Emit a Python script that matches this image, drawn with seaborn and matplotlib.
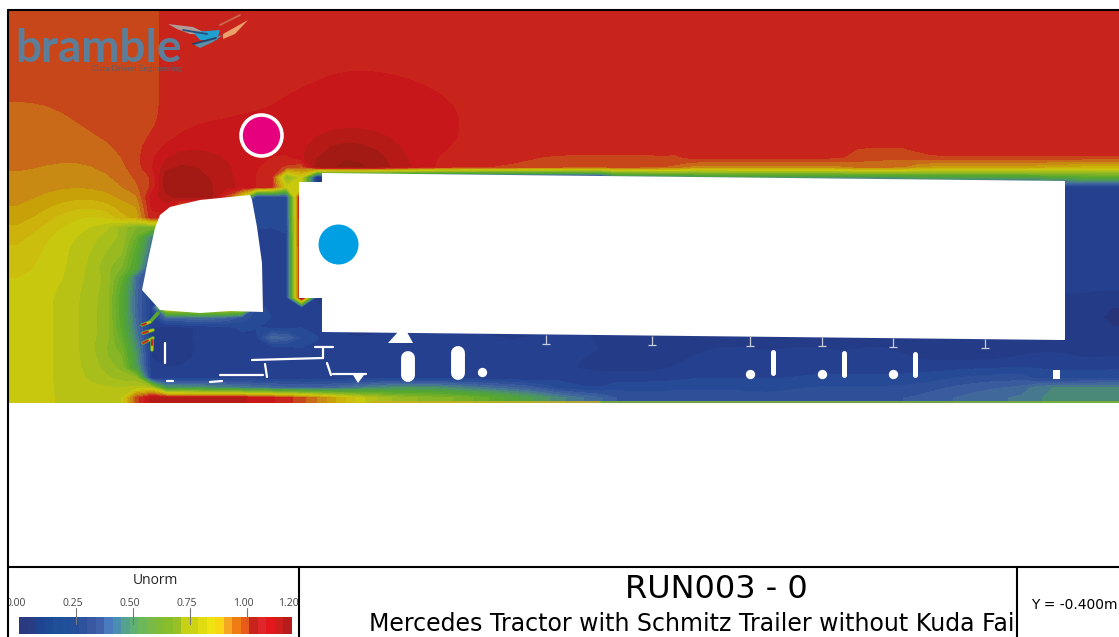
import numpy as np
import matplotlib
matplotlib.use('Agg')
import matplotlib.pyplot as plt
from matplotlib.colors import ListedColormap
import seaborn as sns

# %% Data
# Unorm band per grid cell, one char per band (0-9 then a-v), 32 bands over 0..1.2
# each row is 10 cells per group, last group 4 cells; rows are about 10 px, cells 15 px
BANDS = '0123456789abcdefghijklmnopqrstuv'
field_rows = [
    'qqqqqqqqqq rrrrrrrrrr rrrrrrrrrr rrrrrrrrrr rrrrrrrrrr rrrrrrrrrr rrrrrrrrrr rrrr',
    'qqqqqqqqqq rrrrrrrrrr rrrrrrrrrr rrrrrrrrrr rrrrrrrrrr rrrrrrrrrr rrrrrrrrrr rrrr',
    'qqqqqqqqqq rrrrrrrrrr rrrrrrrrrr rrrrrrrrrr rrrrrrrrrr rrrrrrrrrr rrrrrrrrrr rrrr',
    'qqqqqqqqqq rrrrrrrrrr rrrrrrrrrr rrrrrrrrrr rrrrrrrrrr rrrrrrrrrr rrrrrrrrrr rrrr',
    'qqqqqqqqqq rrrrrrrrrr rrrrrrrrrr rrrrrrrrrr rrrrrrrrrr rrrrrrrrrr rrrrrrrrrr rrrr',
    'qqqqqqqqqq rrrrrrrrrr rrrrrrrrrr rrrrrrrrrr rrrrrrrrrr rrrrrrrrrr rrrrrrrrrr rrrr',
    'qqqqqqqqqq rrrrrrrrrr rsssssrrrr rrrrrrrrrr rrrrrrrrrr rrrrrrrrrr rrrrrrrrrr rrrr',
    'qqqqqqqqqq rrrrrrrrrr ssssssssrr rrrrrrrrrr rrrrrrrrrr rrrrrrrrrr rrrrrrrrrr rrrr',
    'qqqqqqqqqq rrrrrrrrss sssssssssr rrrrrrrrrr rrrrrrrrrr rrrrrrrrrr rrrrrrrrrr rrrr',
    'pppqqqqqqq rrrrrrrrss ssssssssss rrrrrrrrrr rrrrrrrrrr rrrrrrrrrr rrrrrrrrrr rrrr',
    'ppppqqqqqq rrrrrsssss ssssssssss rrrrrrrrrr rrrrrrrrrr rrrrrrrrrr rrrrrrrrrr rrrr',
    'pppppqqqqq rrssssssss ssssssssss rrrrrrrrrr rrrrrrrrrr rrrrrrrrrr rrrrrrrrrr rrrr',
    'ppppppqqqq rsssssssss sttttsssss rrrrrrrrrr rrrrrrrrrr rrrrrrrrrr rrrrrrrrrr rrrr',
    'pppppppqqr ssssssssss tuuuttssss rrrrrrrrrr rrrrrrrrrr rrrrrrrrrr rrrrrrrrrr rrrr',
    'ppppppppqr ttttssssrs uvvvutssrr rrrrrrrrrr rrrrrrrrrr rrrrrrqqqq qqqqqqqqqq qqqq',
    'ppooooppqs uuutttsrpo tvvvvutsrr qqqqqppppp ppppoooooo oooooooooo nnnnnnnnnn mmmm',
    'oooooooppr vvutssrpgk 3333333333 3333333333 778899aaaa aaaaaaaaaa bbbbbbbbbb dddd',
    'oooooooopr vvvuttsqjk 2222222222 2222222222 3333333333 3333333333 3333333333 4333',
    'oonnnnnops uuutqk336v 2222222222 2222222222 2222222222 2222222222 2222222222 3333',
    'onnmllmnps spnmk53 35v 2222222222 2222222222 2222222222 2222222222 2222222222 3333',
    'nnmlkkklnq q55555335v 2222222222 2222222222 2222222222 2222222222 2222222222 3333',
    'nmlkkjjhfg e55555335v 2222222222 2222222222 2222222222 2222222222 2222222222 3333',
    'mlkkjjihea 333333333v 2222222222 2222222222 2222222222 2222222222 2222222222 3333',
    'mlkkjjigd8 333333333v 2222222222 2222222222 2222222222 2222222222 2222222222 3333',
    'llkkjjhfc6 333333333v 2222222222 2222222222 2222222222 2222222222 2222222222 3333',
    'llkkjihfb5 333333333v 2222222222 2222222222 2222222222 2222222222 2222222222 3333',
    'lkkkjjgd83 333333333v 2222222222 2222222222 2222222222 2222222222 2222222222 3333',
    'kkkjjigd73 333333333v 2222222222 2222222222 2222222222 2222222222 2222222222 3333',
    'kkkjjigc63 333333333v 3222222222 2222222222 2222222222 2222222222 2222222222 3222',
    'kkkjjigc63 mmmmmm6333 3222222222 2222222222 2222222222 2222222222 2222222222 3211',
    'kkkjjigd73 6788764333 3222222222 2222222222 2222222222 2222222222 2222222222 3211',
    'kkkjjigd73 1233333333 3222222222 2222222222 2222222222 2222222222 2222222222 3221',
    'kkkjjigd83 1233335876 4333333333 3333333333 2222222222 2222222222 2222222222 3322',
    'kkkjjige94 1233332333 3222333333 3322233332 2211122332 2233222332 1111111222 2112',
    'kkkjjihea3 1322333333 3333333333 3333333333 3322333333 3333333333 3222222333 3223',
    'kkkjjihfc3 1333333333 3333333333 3332222111 1112233333 3333333333 3333333332 3333',
    'kkkjjiihf4 3333333333 3333333333 3333333333 3333333333 3333333333 3445555555 5555',
    'kkkjjjiikj aaa9988776 67889aaaa9 8877665544 4444444444 4445555555 5566677788 8888',
    'kkkjjjklqt ttttttssrq pnlkihhggg fedcba9877 6666666666 5666666666 6777888899 aaaa',
]

# field shading, one colour per band
field_colors = ['#262c6e', '#27347a', '#243c88', '#24408f', '#274a96', '#2d5099', '#3a5c9e', '#40689a',
                '#46788f', '#4a8878', '#4d9660', '#4f9f48', '#52a338', '#58a830', '#66ad2c', '#76b028',
                '#86b526', '#98ba20', '#a8be1a', '#b8c215', '#c8c80f', '#cbbe0d', '#cdb20c', '#c8a008',
                '#c88a12', '#c86a18', '#c8471a', '#c8241b', '#c8171a', '#b51a17', '#a31a14', '#941a12']
# legend bar, brighter than the field
bar_colors = ['#2a3a80', '#2a3c84', '#1f4490', '#1e4a95', '#1f4f97', '#205099', '#254f9a', '#2f529d',
              '#3a58a2', '#3f62aa', '#4a7bbf', '#4b8fb0', '#55a38f', '#5fb072', '#6cb75a', '#78b948',
              '#80bb38', '#88bd2c', '#98c024', '#c8d016', '#ccd214', '#e0dc10', '#f0e312', '#fbd614',
              '#f5a623', '#ef7d14', '#e85b1a', '#c9241b', '#e0262a', '#e3171c', '#cc1f1c', '#b71c1c']
bar_ticks = [0.0, 0.25, 0.5, 0.75, 1.0, 1.2]
bar_tick_labels = ['0.00', '0.25', '0.50', '0.75', '1.00', '1.20']

# vehicle outlines, in picture pixels
cab_x = [142, 148, 155, 160, 170, 200, 250, 252, 257, 262, 263, 230, 200, 160]
cab_y = [290, 260, 228, 215, 207, 200, 195, 200, 227, 263, 312, 311, 313, 310]
trailer_x = [299, 322, 322, 1065, 1065, 1062, 322, 322, 299]
trailer_y = [182, 182, 173, 181, 340, 340, 332, 298, 298]
front_gear_x = [388, 413, 407, 398]
front_gear_y = [343, 343, 332, 332]
wheel_x = [482, 750, 822, 893]
wheel_y = [372, 374, 374, 374]
axle_x = [773, 844, 915]
axle_top = [352, 353, 354]
axle_bottom = [373, 375, 375]
tank_x = [408, 458]
tank_top = [358, 353]
tank_bottom = [375, 373]
beam_x = [546, 652, 750, 822, 893, 985]
beam_top = [335, 336, 336, 337, 338, 339]
beam_bottom = [344, 345, 346, 346, 347, 348]
sliver_x = [[165, 165], [167, 173], [210, 222], [220, 263], [265, 267], [327, 331], [333, 366], [315, 333], [323, 323], [252, 323]]
sliver_y = [[343, 363], [381, 381], [382, 381], [375, 375], [364, 377], [363, 375], [374, 374], [347, 347], [347, 358], [360, 358]]
rear_block_x = [1053, 1060, 1060, 1053]
rear_block_y = [370, 370, 379, 379]
under_blob_x = [353, 364, 358]
under_blob_y = [375, 375, 383]

# bright streaks between the bumper parts
streak_x = [[142, 150, 158], [143, 153], [143, 153], [152, 152]]
streak_y = [[325, 322, 313], [333, 330], [343, 338], [340, 350]]

# floor line under the wake
floor_x = [[370, 600], [600, 1119]]
floor_colors = ['#c8b020', '#7db52d']

# logo swoosh pieces
swoosh_x = [[168, 193, 210, 190, 177], [193, 220, 217, 200], [193, 223, 213, 200], [223, 248, 235, 223]]
swoosh_y = [[24, 27, 35, 34, 29], [32, 30, 40, 40], [44, 35, 42, 48], [34, 20, 34, 39]]
swoosh_colors = ['#b09a9a', '#1fa0d0', '#5a8fa8', '#e9a06a']
swoosh_line_x = [[183, 207], [193, 216], [220, 240]]
swoosh_line_y = [[30, 34], [44, 38], [25, 15]]
swoosh_line_colors = ['#2b4f74', '#22406a', '#c96a4a']


def px_axes(x0, y0, x1, y1):
    # axes from picture pixels
    return fig.add_axes([x0 / 1119, 1 - y1 / 637, (x1 - x0) / 1119, (y1 - y0) / 637])


def soften(z, passes=3, limit=2.5):
    # rounds the stair steps of the band edges, cells across a sharp edge are left out
    for _ in range(passes):
        p = np.pad(z, 1, mode='edge')
        nbrs = np.stack([z, p[:-2, 1:-1], p[2:, 1:-1], p[1:-1, :-2], p[1:-1, 2:]])
        near = np.abs(nbrs - z) <= limit
        z = (nbrs * near).sum(axis=0) / near.sum(axis=0)
    return z


sns.set_theme(style='white')
plt.rcParams['font.family'] = ['DejaVu Sans']
fig = plt.figure(figsize=(11.19, 6.37), dpi=100)

# %% Field: heatmap fills the grid, contourf gives the smooth band edges
field = np.array([[BANDS.index(c) + 0.5 for c in row.replace(' ', '')] for row in field_rows])
field_cmap = ListedColormap(field_colors)
ax = px_axes(9, 11, 1119, 403)
sns.heatmap(field, ax=ax, cmap=field_cmap, vmin=0, vmax=32, cbar=False, xticklabels=False, yticklabels=False)
n_rows, n_cols = field.shape
grid_x = np.r_[0, np.arange(n_cols) + 0.5, n_cols]
grid_y = np.r_[0, np.arange(n_rows) + 0.5, n_rows]
ax.contourf(grid_x, grid_y, np.pad(soften(field), 1, mode='edge'), levels=np.arange(33),
            colors=field_colors, antialiased=False)

# %% Everything else sits on a full-figure overlay in pixel coordinates
ov = px_axes(0, 0, 1119, 637)
ov.set_xlim(0, 1119)
ov.set_ylim(637, 0)
ov.axis('off')
ov.patch.set_alpha(0)

for x, c in zip(floor_x, floor_colors):
    ov.plot(x, [402, 402], color=c, lw=1.2, zorder=2)

for x, y in zip(streak_x, streak_y):
    ov.plot(x, y, color='#58a830', lw=2.6, solid_capstyle='round', zorder=2)
    ov.plot(x[:2], y[:2], color='#c8c80f', lw=1.4, zorder=2)
    ov.plot([x[0], (x[0] + x[1]) / 2], [y[0], (y[0] + y[1]) / 2], color='#c8241b', lw=1.4, zorder=2)

ov.fill(cab_x, cab_y, color='white', lw=0, zorder=3)
ov.fill(trailer_x, trailer_y, color='white', lw=0, zorder=3)
ov.fill(front_gear_x, front_gear_y, color='white', lw=0, zorder=3)
ov.fill(rear_block_x, rear_block_y, color='white', lw=0, zorder=3)
ov.fill(under_blob_x, under_blob_y, color='white', lw=0, zorder=3)
ov.scatter(wheel_x, wheel_y, s=45, color='white', lw=0, zorder=3)
ov.vlines(axle_x, axle_top, axle_bottom, color='white', lw=3.6, capstyle='round', zorder=3)
ov.vlines(tank_x, tank_top, tank_bottom, color='white', lw=10, capstyle='round', zorder=3)
ov.vlines(beam_x, beam_top, beam_bottom, color='#c8ccd8', lw=0.9, zorder=3)
ov.hlines(beam_bottom, np.array(beam_x) - 4, np.array(beam_x) + 4, color='#c8ccd8', lw=0.9, zorder=3)
for x, y in zip(sliver_x, sliver_y):
    ov.plot(x, y, color='white', lw=1.6, zorder=3)

ov.scatter([261], [135], s=(41 * 0.72) ** 2, color='#e6007e', edgecolor='white', linewidth=2.6, zorder=4)
ov.scatter([338], [244], s=(40 * 0.72) ** 2, color='#009fe3', lw=0, zorder=4)

# logo
ov.text(15, 62, 'bramble', color='#5b7f9b', fontsize=33, fontweight='bold', family='Lato', zorder=4)
ov.text(182, 69, 'Data Driven Engineering', color='#56616e', fontsize=6, ha='right', va='center', family='Lato', zorder=4)
for x, y, c in zip(swoosh_x, swoosh_y, swoosh_colors):
    ov.fill(x, y, color=c, lw=0, zorder=4)
for x, y, c in zip(swoosh_line_x, swoosh_line_y, swoosh_line_colors):
    ov.plot(x, y, color=c, lw=1.3, zorder=4)

# frame and panel lines
ov.plot([8, 8], [10, 637], color='black', lw=1.5, zorder=5)
ov.plot([8, 1119], [10, 10], color='black', lw=1.5, zorder=5)
ov.plot([8, 1119], [567, 567], color='black', lw=1.5, zorder=5)
ov.plot([299, 299], [567, 637], color='black', lw=1.5, zorder=5)
ov.plot([1017, 1017], [567, 637], color='black', lw=1.5, zorder=5)

# %% Legend panel
bar_ax = px_axes(19, 617, 292, 634)
sns.heatmap(np.arange(32).reshape(1, -1), ax=bar_ax, cmap=ListedColormap(bar_colors), vmin=0, vmax=31,
            cbar=False, xticklabels=False, yticklabels=False)

leg = px_axes(9, 568, 298, 637)
leg.set_xlim(9, 298)
leg.set_ylim(637, 568)
leg.axis('off')
leg.patch.set_alpha(0)
leg.text(155, 580, 'Unorm', ha='center', va='center', fontsize=10, family='Open Sans', color='#222222')
for v, lab in zip(bar_ticks, bar_tick_labels):
    tx = 19 + v / 1.2 * 273
    leg.text(tx - 3 if v < 1.2 else tx - 4, 603, lab, ha='center', va='center', fontsize=7.5, family='Open Sans',
             color='#444444', clip_on=True)
    if 0 < v < 1.2:
        leg.plot([tx, tx], [608, 624], color='#777777', lw=0.8)

# %% Title panel, the long line is cut by the panel edge like in the original
title_ax = px_axes(300, 568, 1016, 637)
title_ax.set_xlim(300, 1016)
title_ax.set_ylim(637, 568)
title_ax.axis('off')
title_ax.text(716, 589, 'RUN003 - 0', ha='center', va='center', fontsize=23, color='black', clip_on=True)
title_ax.text(369, 624, 'Mercedes Tractor with Schmitz Trailer without Kuda Fairing', ha='left', va='center',
              fontsize=17, color='black', clip_on=True)

ov.text(1074, 605, 'Y = -0.400m', ha='center', va='center', fontsize=10, color='black')

fig.savefig('out.png', dpi=100)
